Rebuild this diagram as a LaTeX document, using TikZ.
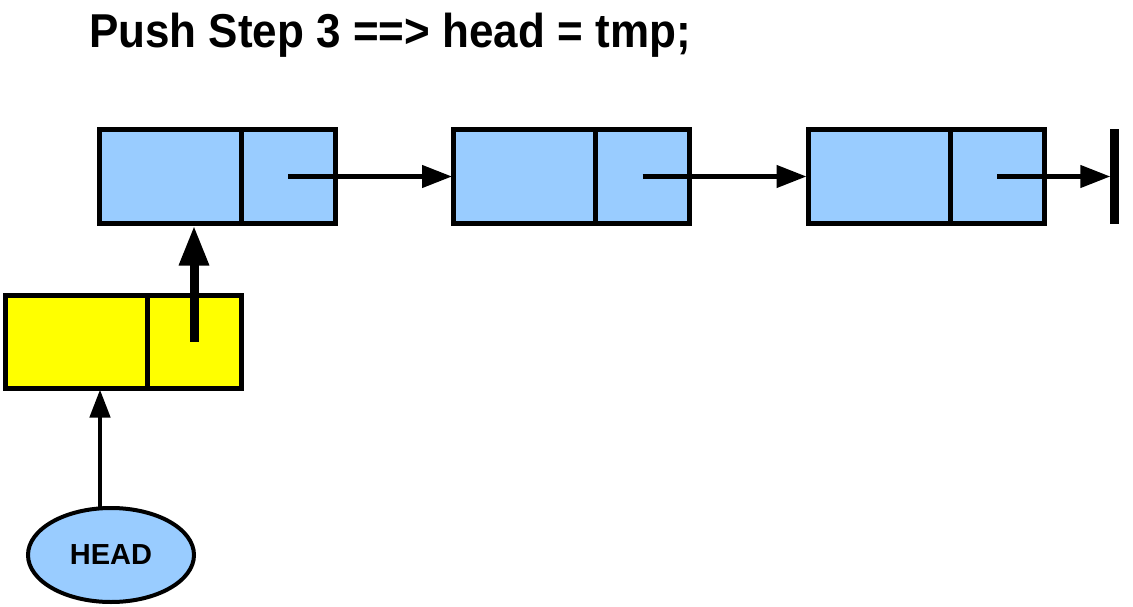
\documentclass[tikz,border=0pt]{standalone}
\usepackage{fontspec}
\setmainfont{Liberation Sans}
\usetikzlibrary{arrows.meta,shapes.geometric}
\definecolor{cellblue}{HTML}{99CCFF}
\definecolor{cellyellow}{HTML}{FFFF00}
\tikzset{
  cellL/.style={draw=black, line width=5pt, fill=#1, inner sep=0pt, minimum width=142pt, minimum height=93pt},
  cellR/.style={draw=black, line width=5pt, fill=#1, inner sep=0pt, minimum width=94pt, minimum height=93pt},
  linkarrow/.style={line width=4.5pt, -{Triangle[length=30pt,width=22pt]}, shorten >=-1pt},
  bigarrow/.style={line width=9pt, -{Triangle[length=40pt,width=28pt]}},
  headarrow/.style={line width=4.5pt, -{Triangle[length=28pt,width=20pt]}, shorten >=-1pt},
  endbar/.style={fill=black, inner sep=0pt, minimum width=9pt, minimum height=95pt},
  headnode/.style={ellipse, draw=black, line width=4pt, fill=cellblue, inner sep=0pt, minimum width=166pt, minimum height=94pt, font=\bfseries\fontsize{29}{32}\selectfont},
  titlenode/.style={anchor=base west, inner sep=0pt, font=\bfseries\fontsize{44}{50}\selectfont}
}
\begin{document}
\begin{tikzpicture}[x=1pt,y=-1pt]
\useasboundingbox (0,0) rectangle (1133,607);
\node[titlenode] (title) at (89,48) {\scalebox{1}[1.08]{Push Step 3 ==> head = tmp;}};
% top list
\node[cellL=cellblue] (b1l) at (170,176.5) {};
\node[cellR=cellblue] (b1r) at (288,176.5) {};
\node[cellL=cellblue] (b2l) at (524.5,176.5) {};
\node[cellR=cellblue] (b2r) at (642.5,176.5) {};
\node[cellL=cellblue] (b3l) at (879,176.5) {};
\node[cellR=cellblue] (b3r) at (997,176.5) {};
\node[endbar] (nil) at (1114,176.5) {};
% yellow node
\node[cellL=cellyellow] (y1l) at (76,341.5) {};
\node[cellR=cellyellow] (y1r) at (194,341.5) {};
% HEAD
\node[headnode] (head) at (111,555) {HEAD};
\coordinate (hs) at (100,508);
% connectors
\draw[linkarrow] (b1r.center) -- (b2l.west);
\draw[linkarrow] (b2r.center) -- (b3l.west);
\draw[linkarrow] (b3r.center) -- (nil.west);
\draw[bigarrow] (y1r.center) -- (y1r.center |- b1l.south);
\draw[headarrow] (hs) -- (hs |- y1l.south);
\end{tikzpicture}
\end{document}
